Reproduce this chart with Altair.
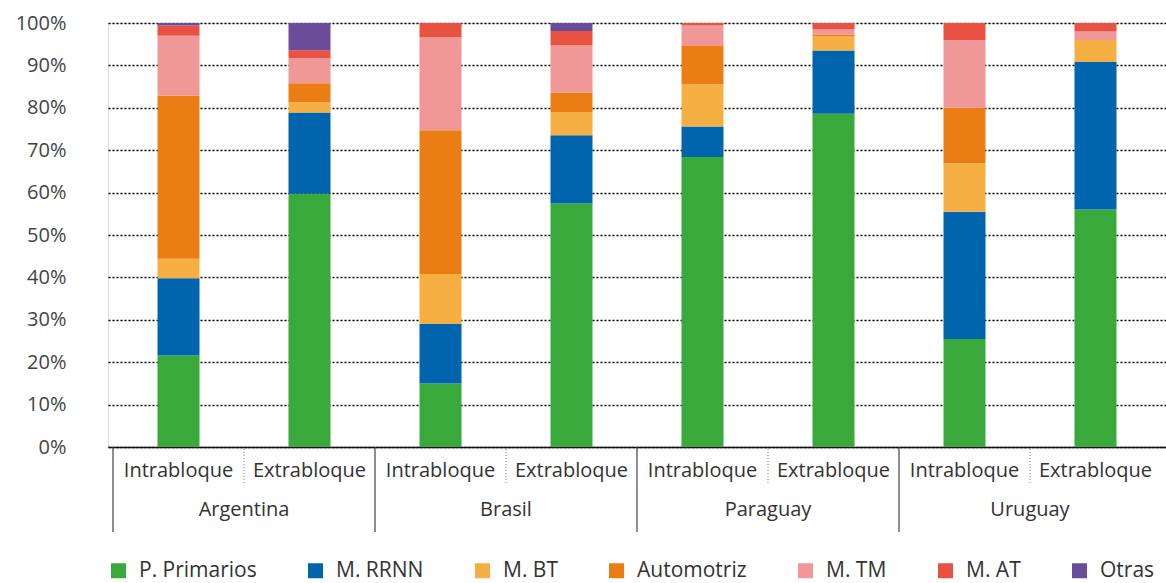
import altair as alt
import pandas as pd

countries = ["Argentina", "Brasil", "Paraguay", "Uruguay"]
bloques = ["Intrabloque", "Extrabloque"]
categories = ["P. Primarios", "M. RRNN", "M. BT", "Automotriz", "M. TM", "M. AT", "Otras"]
colors = ["#39A93B", "#0065AD", "#F5AF42", "#EB7D15", "#F09797", "#E85242", "#6B4C9A"]

# values per bar: Arg-Intra, Arg-Extra, Bra-Intra, Bra-Extra, Par-Intra, Par-Extra, Uru-Intra, Uru-Extra
p_primarios = [21.6, 59.7, 15.0, 57.4, 68.4, 78.6, 25.5, 56.0]
m_rrnn      = [18.2, 19.2, 14.0, 16.1,  7.2, 14.9, 30.0, 34.8]
m_bt        = [ 4.6,  2.4, 11.8,  5.5,  9.9,  3.3, 11.4,  5.2]
automotriz  = [38.5,  4.5, 33.9,  4.6,  9.1,  0.4, 13.1,  0.0]
m_tm        = [14.1,  5.9, 22.0, 11.1,  4.8,  1.4, 16.0,  2.0]
m_at        = [ 2.4,  1.9,  3.3,  3.4,  0.6,  1.4,  4.0,  2.0]
otras       = [ 0.6,  6.4,  0.0,  1.9,  0.0,  0.0,  0.0,  0.0]
series = [p_primarios, m_rrnn, m_bt, automotriz, m_tm, m_at, otras]

y_ticks = list(range(0, 101, 10))

rows = []
for i in range(8):
    c = countries[i // 2]
    b = bloques[i % 2]
    for k, cat in enumerate(categories):
        rows.append({"pos": i + 0.5, "country": c, "bloque": b,
                     "cat": cat, "order": k, "value": series[k][i]})
df = pd.DataFrame(rows)

bar_labels = pd.DataFrame({"pos": [i + 0.5 for i in range(8)],
                           "label": [bloques[i % 2] for i in range(8)]})
country_labels = pd.DataFrame({"pos": [2 * j + 1 for j in range(4)], "label": countries})
country_seps = pd.DataFrame({"pos": [0, 2, 4, 6]})
bloque_seps = pd.DataFrame({"pos": [1, 3, 5, 7]})

FONT = "Open Sans"
W, H = 1058, 424

xaxis = alt.Axis(labels=False, ticks=False, domain=True, domainColor="#111",
                 domainWidth=1.5, grid=False, title=None)
xscale = alt.Scale(domain=[0, 8], nice=False, zero=False)

def X():
    return alt.X("pos:Q", scale=xscale, axis=xaxis)

bars = alt.Chart(df).mark_bar(size=42).encode(
    x=X(),
    y=alt.Y("value:Q", stack="zero",
            scale=alt.Scale(domain=[0, 100], nice=False),
            axis=alt.Axis(values=y_ticks, labelExpr="datum.value + '%'",
                          grid=True, gridDash=[2, 2], gridColor="#000",
                          gridWidth=1.3, domain=False, ticks=False, tickSize=0,
                          labelPadding=42, labelFontSize=20, labelFont=FONT,
                          labelColor="#444", title=None)),
    color=alt.Color("cat:N", scale=alt.Scale(domain=categories, range=colors),
                    sort=categories,
                    legend=alt.Legend(orient="none", legendX=0, legendY=537,
                                      direction="horizontal", title=None,
                                      labelFontSize=21, labelFont=FONT,
                                      labelColor="#333",
                                      symbolType="square",
                                      symbolSize=225, symbolStrokeWidth=0,
                                      columnPadding=48, labelOffset=10)),
    order=alt.Order("order:Q"),
)

csep = alt.Chart(country_seps).mark_rule(color="#444", strokeWidth=1.2).encode(
    x=X(), y=alt.value(H), y2=alt.value(H + 85))

bsep = alt.Chart(bloque_seps).mark_rule(color="#777", strokeWidth=1, strokeDash=[1, 2]).encode(
    x=X(), y=alt.value(H + 2), y2=alt.value(H + 38))

btext = alt.Chart(bar_labels).mark_text(font=FONT, fontSize=20, color="#333",
                                        baseline="middle").encode(
    x=X(), y=alt.value(H + 24), text="label:N")

ctext = alt.Chart(country_labels).mark_text(font=FONT, fontSize=20, color="#333",
                                            baseline="middle").encode(
    x=X(), y=alt.value(H + 63), text="label:N")

chart = alt.layer(bars, csep, bsep, btext, ctext).properties(
    width=W, height=H,
    padding={"left": 108, "top": 23, "right": 0, "bottom": 136},
    autosize="none",
).configure_view(stroke=None).configure(background="white")

chart.save("out.html", embed_options={"renderer": "svg", "actions": False})
